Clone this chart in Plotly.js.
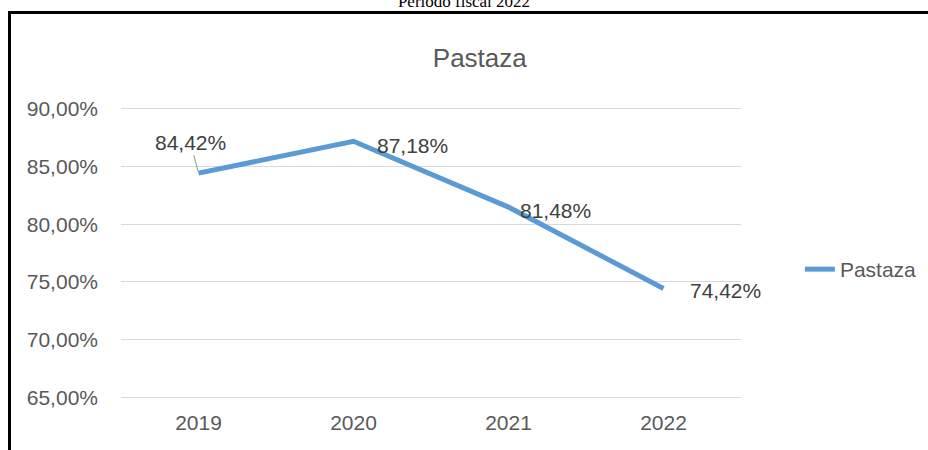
<!DOCTYPE html>
<html>
<head>
<meta charset="utf-8">
<script src="https://cdn.plot.ly/plotly-3.0.1.min.js"></script>
<style>
  html, body { margin: 0; padding: 0; background: #ffffff; overflow: hidden; }
  #wrap { position: relative; width: 928px; height: 450px; overflow: hidden; }
  #frame { position: absolute; left: 8px; top: 11px; width: 940px; height: 460px;
           border: 3px solid #000; border-bottom: none; border-right: none; box-sizing: border-box; }
  #caption { position: absolute; left: 0; width: 928px; top: -7px; text-align: center;
             font-family: "Liberation Serif", "Times New Roman", serif; font-size: 17px;
             line-height: 17px; color: #000; }
  #chart { position: absolute; left: 0; top: 0; width: 928px; height: 450px; }
</style>
</head>
<body>
<div id="wrap">
  <div id="caption">Periodo fiscal 2022</div>
  <div id="frame"></div>
  <div id="chart"></div>
</div>
<script>
const years = ['2019', '2020', '2021', '2022'];
const pastaza = [84.42, 87.18, 81.48, 74.42];
const seriesName = 'Pastaza';
const chartTitle = 'Pastaza';

function fmt(v) { return v.toFixed(2).replace('.', ',') + '%'; }

// label placement (styling only)
const labelStyle = [
  {ax: -8, ay: -31, arrow: true},
  {xanchor: 'left', xshift: 21, yshift: -4},
  {xanchor: 'left', xshift: 9, yshift: -3},
  {xanchor: 'left', xshift: 24, yshift: -2}
];

const annotations = years.map((yr, i) => {
  const s = labelStyle[i];
  const a = {
    x: i, y: pastaza[i], xref: 'x', yref: 'y',
    text: fmt(pastaza[i]),
    font: {family: 'Liberation Sans, Arial, sans-serif', size: 21, color: '#404040'},
    showarrow: !!s.arrow
  };
  if (s.arrow) {
    a.ax = s.ax; a.ay = s.ay; a.arrowhead = 0; a.arrowwidth = 1.2; a.arrowcolor = '#a6a6a6';
    a.standoff = 2;
  } else {
    a.xanchor = s.xanchor; a.yanchor = 'middle'; a.xshift = s.xshift; a.yshift = s.yshift;
  }
  return a;
});

const trace = {
  x: years, y: pastaza, type: 'scatter', mode: 'lines', name: seriesName,
  line: {color: '#5b9bd5', width: 5}, hoverinfo: 'skip'
};

const layout = {
  width: 928, height: 450,
  margin: {l: 121, r: 187, t: 103, b: 47, autoexpand: false},
  paper_bgcolor: 'rgba(0,0,0,0)', plot_bgcolor: 'rgba(0,0,0,0)',
  title: {text: chartTitle, x: 0.517, xref: 'container', xanchor: 'center',
          y: 0.871, yref: 'container', yanchor: 'middle',
          font: {family: 'Liberation Sans, Arial, sans-serif', size: 26, color: '#595959'}},
  xaxis: {type: 'category', range: [-0.5, 3.5], showgrid: false, zeroline: false, showline: false, ticks: '',
          tickfont: {family: 'Liberation Sans, Arial, sans-serif', size: 21, color: '#595959'},
          ticklabelstandoff: 5, fixedrange: true},
  yaxis: {range: [64.5, 90.5], dtick: 5, tick0: 65, showgrid: true, gridcolor: '#d9d9d9', gridwidth: 1,
          zeroline: false, showline: false, ticks: '', tickformat: '.2f', ticksuffix: '%',
          tickfont: {family: 'Liberation Sans, Arial, sans-serif', size: 21, color: '#595959'},
          ticklabelstandoff: 22, fixedrange: true},
  separators: ',.',
  showlegend: true,
  legend: {x: 1.095, xanchor: 'left', y: 0.445, yanchor: 'middle', bgcolor: 'rgba(0,0,0,0)',
           font: {family: 'Liberation Sans, Arial, sans-serif', size: 21, color: '#595959'}},
  annotations: annotations
};

Plotly.newPlot('chart', [trace], layout, {displayModeBar: false, staticPlot: true});
</script>
</body>
</html>
